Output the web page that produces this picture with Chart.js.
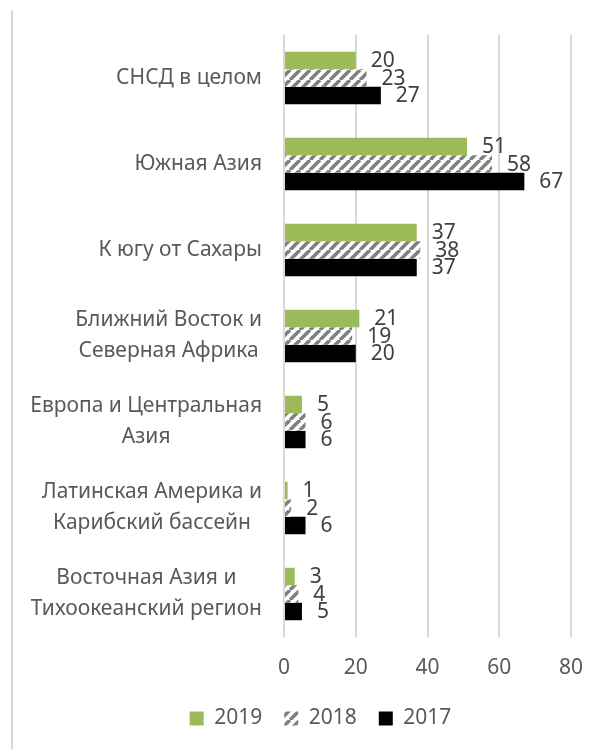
<!DOCTYPE html>
<html>
<head>
<meta charset="utf-8">
<script src="https://cdn.jsdelivr.net/npm/chart.js@4.4.0/dist/chart.umd.min.js"></script>
<style>
  body { margin: 0; background: #fff; }
  #wrap { width: 610px; height: 749px; position: relative; }
</style>
</head>
<body>
<div id="wrap"><canvas id="myChart"></canvas></div>
<script>
const ctx = document.getElementById('myChart');

// data
const regions = [
  ['СНСД в целом'],
  ['Южная Азия'],
  ['К югу от Сахары'],
  ['Ближний Восток и', 'Северная Африка'],
  ['Европа и Центральная', 'Азия'],
  ['Латинская Америка и', 'Карибский бассейн'],
  ['Восточная Азия и', 'Тихоокеанский регион']
];
const years = ['2019', '2018', '2017'];
const values2019 = [20, 51, 37, 21, 5, 1, 3];
const values2018 = [23, 58, 38, 19, 6, 2, 4];
const values2017 = [27, 67, 37, 20, 6, 6, 5];
const xTicks = [0, 20, 40, 60, 80];

const FONT = '"Noto Sans", "Open Sans", sans-serif';

function hatch(){
    const s = 10;
    const c = document.createElement('canvas');
    c.width = s; c.height = s;
    const g = c.getContext('2d');
    g.fillStyle = '#ffffff';
    g.fillRect(0, 0, s, s);
    g.strokeStyle = '#808080';
    g.lineWidth = 3.6;
    g.beginPath();
    for (let k = -1; k <= 1; k++) {
        g.moveTo(k * s, s);
        g.lineTo(k * s + s, 0);
    }
    g.stroke();
    return g.createPattern(c, 'repeat');
}

// left frame line + category labels
const framePlugin = {
    id: 'frame',
    beforeDraw(chart){
        const c = chart.ctx;
        c.save();
        c.strokeStyle = '#d9d9d9';
        c.lineWidth = 2;
        c.beginPath();
        c.moveTo(12, 10);
        c.lineTo(12, chart.height);
        c.stroke();
        c.restore();
    },
    afterDraw(chart){
        const c = chart.ctx;
        const y = chart.scales.y;
        c.save();
        c.font = '21px ' + FONT;
        c.fillStyle = '#595959';
        c.textAlign = 'center';
        c.textBaseline = 'middle';
        const right = y.right - 22;
        const lh = 31;
        regions.forEach(function(lines, i){
            const cy = y.getPixelForTick(i);
            const w = Math.max.apply(null, lines.map(l => c.measureText(l).width));
            lines.forEach(function(l, j){
                c.fillText(l, right - w / 2, cy + (j - (lines.length - 1) / 2) * lh);
            });
        });
        c.restore();
    }
};

// value labels at the bar ends
const labelPlugin = {
    id: 'barLabels',
    afterDatasetsDraw(chart){
        const c = chart.ctx;
        c.save();
        c.font = '21px ' + FONT;
        c.fillStyle = '#404040';
        c.textAlign = 'left';
        c.textBaseline = 'middle';
        chart.data.datasets.forEach(function(ds, i){
            chart.getDatasetMeta(i).data.forEach(function(bar, j){
                c.fillText(ds.data[j], bar.x + 15, bar.y + 1);
            });
        });
        c.restore();
    }
};

new Chart(ctx, {
    type: 'bar',
    data: {
        labels: regions,
        datasets: [
            { label: years[0], data: values2019, backgroundColor: '#9bbb59' },
            { label: years[1], data: values2018, backgroundColor: hatch() },
            { label: years[2], data: values2017, backgroundColor: '#000000' }
        ]
    },
    options: {
        indexAxis: 'y',
        responsive: true,
        maintainAspectRatio: false,
        animation: false,
        categoryPercentage: 0.61,
        barPercentage: 1,
        layout: { padding: { top: 35, right: 39, left: 70, bottom: 10 } },
        scales: {
            y: {
                ticks: { display: false },
                grid: { display: false },
                border: { display: false },
                afterFit: function(scale){ scale.width = 214; }
            },
            x: {
                min: 0,
                max: 80,
                afterBuildTicks: function(scale){ scale.ticks = xTicks.map(v => ({ value: v })); },
                ticks: { color: '#595959', font: { size: 21, family: FONT }, padding: 18 },
                grid: { color: '#d9d9d9', lineWidth: 2, drawTicks: false },
                border: { display: false },
                afterFit: function(scale){ scale.height = 49; }
            }
        },
        plugins: {
            tooltip: { enabled: false },
            legend: {
                position: 'bottom',
                labels: {
                    color: '#595959',
                    font: { size: 21, family: FONT },
                    boxWidth: 14,
                    boxHeight: 14,
                    padding: 22
                }
            }
        }
    },
    plugins: [framePlugin, labelPlugin]
});
</script>
</body>
</html>
